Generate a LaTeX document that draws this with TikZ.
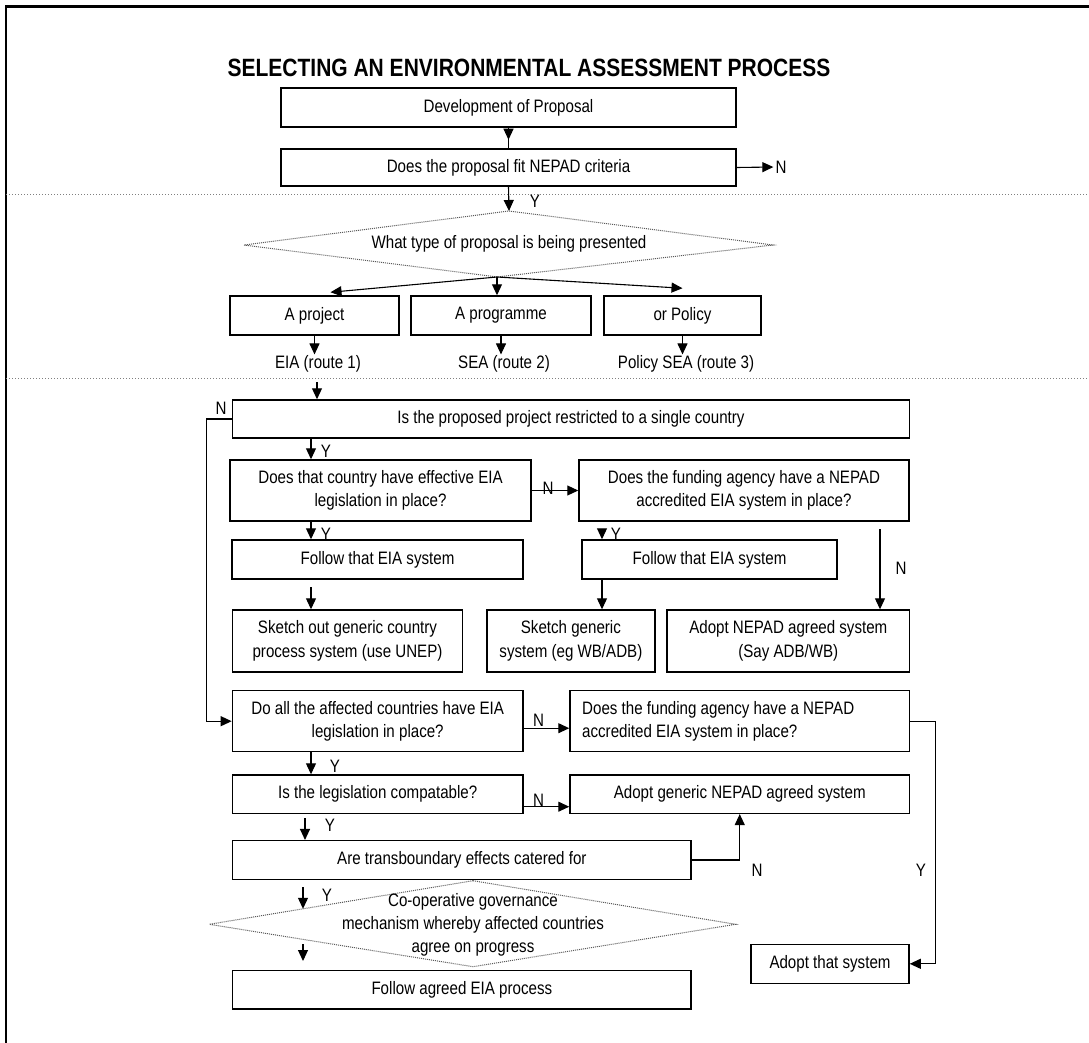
\documentclass[tikz,border=0pt]{standalone}
\usepackage{fontspec}
\setmainfont{Liberation Sans}[FakeStretch=0.84]
\usetikzlibrary{arrows.meta}
\begin{document}
\begin{tikzpicture}[x=1pt,y=-1pt,
  font=\fontsize{18}{23.3}\selectfont,
  box/.style={draw, line width=1.5pt, inner sep=0pt, align=center},
  lbl/.style={inner sep=1pt},
  arr/.style={line width=1.1pt, -{Triangle[length=11pt,width=10pt]}},
  link/.style={line width=1.1pt},
  sep/.style={gray, dotted, line width=1pt},
  decision/.style={gray!70!black, densely dotted, line width=1pt},
]
\useasboundingbox (0,0) rectangle (1089,1043);
\fill[white] (0,0) rectangle (1089,1043);

% outer frame
\draw[line width=2.2pt] (6,1043) -- (6,6.5) -- (1089,6.5);

% title
\node[font=\bfseries\fontsize{25}{30}\selectfont] (title) at (529,68)
  {SELECTING AN ENVIRONMENTAL ASSESSMENT PROCESS};

% screening
\node[box, minimum width=455, minimum height=39] (dev) at (508.5,107.5) {Development of Proposal};
\node[box, minimum width=455, minimum height=37] (crit) at (508.5,167.5) {Does the proposal fit NEPAD criteria};
\draw[link] (dev.south) -- (crit.north);
\draw[arr] (dev.south) -- ++(0,12);
\node[lbl] (critN) at (781,167) {N};
\draw[arr, shorten >=1pt] (crit.east) -- (critN.west);

\draw[sep] (6,195) -- (1089,195);

% type of proposal
\coordinate (q1t) at (509,211);
\coordinate (q1r) at (773,245);
\coordinate (q1b) at (497,277);
\coordinate (q1l) at (244,245);
\draw[decision] (q1t) -- (q1r) -- (q1b) -- (q1l) -- cycle;
\node[lbl] (q1) at (509,244) {What type of proposal is being presented};
\draw[arr] (crit.south) -- (q1t);
\node[lbl] (q1Y) at (535,201) {Y};

\node[box, minimum width=169, minimum height=39] (proj) at (314.5,315.5) {A project};
\node[box, minimum width=180, minimum height=39] (prog) at (501,315.5) {A programme};
\node[box, minimum width=157, minimum height=39] (pol) at (682.5,315.5) {or Policy};
\draw[arr] (q1b) -- ([xshift=16pt,yshift=3pt]proj.north);
\draw[arr] (q1b) -- (q1b |- prog.north);
\draw[arr] (q1b) -- ([yshift=7pt]pol.north);

\node[lbl] (r1) at (318,364) {EIA (route 1)};
\node[lbl] (r2) at (504,364) {SEA (route 2)};
\node[lbl] (r3) at (686,364) {Policy SEA (route 3)};
\draw[arr] (proj.south) -- (proj.south |- r1.north);
\draw[arr] (prog.south) -- (prog.south |- r2.north);
\draw[arr] (pol.south) -- (pol.south |- r3.north);

\draw[sep] (6,378) -- (1089,378);

% route 1
\coordinate (xl) at (311,0);
\coordinate (xm) at (602,0);
\coordinate (pin) at (317,382);
\node[box, minimum width=677, minimum height=38] (P) at (571,419) {Is the proposed project restricted to a single country};
\draw[arr] (pin) -- (pin |- P.north);
\node[lbl] (PN) at (221,408) {N};

\node[box, minimum width=301, minimum height=61] (A1) at (380.5,490.5) {Does that country have effective EIA\\legislation in place?};
\node[box, minimum width=330, minimum height=61] (A2) at (744,490.5) {Does the funding agency have a NEPAD\\accredited EIA system in place?};
\draw[arr] (P.south -| xl) -- (A1.north -| xl);
\node[lbl] (A1Y) at (326,451) {Y};
\draw[arr] (A1.east) -- (A2.west);
\node[lbl] (A2N) at (548,488) {N};

\node[box, minimum width=291, minimum height=39] (B1) at (377.5,559.5) {Follow that EIA system};
\node[box, minimum width=255, minimum height=39] (B2) at (709.5,559.5) {Follow that EIA system};
\draw[arr] (A1.south -| xl) -- (B1.north -| xl);
\node[lbl] (B1Y) at (326,534) {Y};
\coordinate (b2in) at (602,529);
\draw[arr] (b2in) -- (b2in |- B2.north);
\node[lbl] (B2Y) at (616,534) {Y};

\node[box, minimum width=230, minimum height=61.7] (C1) at (347.5,640.9) {Sketch out generic country\\process system (use UNEP)};
\node[box, minimum width=168, minimum height=61.7] (C2) at (570.9,640.9) {Sketch generic\\system (eg WB/ADB)};
\node[box, minimum width=242.5, minimum height=61.7] (C3) at (788.3,640.9) {Adopt NEPAD agreed system\\(Say ADB/WB)};
\coordinate (c1in) at (311,587);
\draw[arr] (c1in) -- (c1in |- C1.north);
\draw[arr] (B2.south -| xm) -- (C2.north -| xm);
\coordinate (c3in) at (880,529);
\draw[arr] (c3in) -- (c3in |- C3.north);
\node[lbl] (C3N) at (901,568) {N};

% several countries
\node[box, minimum width=290.6, minimum height=61] (D1) at (377.7,721.2) {Do all the affected countries have EIA\\legislation in place?};
\node[box, minimum width=339.5, minimum height=61] (D2) at (739.75,721.2) {};
\node[lbl, anchor=west, align=flush left] (D2t) at (581,721.2) {Does the funding agency have a NEPAD\\accredited EIA system in place?};
\draw[arr] (P.west) -- ++(-25.5,0) |- (D1.west);
\draw[arr] ([yshift=-7pt]D1.east) -- ([yshift=-7pt]D2.west);
\node[lbl] (D2N) at (538.7,720) {N};

\node[box, minimum width=290.6, minimum height=38.3] (E1) at (377.7,794.2) {Is the legislation compatable?};
\node[box, minimum width=339.5, minimum height=38.3] (E2) at (739.75,794.2) {Adopt generic NEPAD agreed system};
\draw[arr] (D1.south -| xl) -- (E1.north -| xl);
\node[lbl] (E1Y) at (335,766) {Y};
\draw[arr] ([yshift=-12.5pt]E1.east) -- ([yshift=-12.5pt]E2.west);
\node[lbl] (E2N) at (538.7,800) {N};

\node[box, minimum width=458.3, minimum height=38.6] (F) at (461.85,860) {Are transboundary effects catered for};
\coordinate (fin) at (305,818);
\draw[arr] (fin) -- (fin |- F.north);
\node[lbl] (FY) at (330,825) {Y};
\draw[arr] (F.east) -| (E2.south);
\node[lbl] (FN) at (757,870) {N};

\coordinate (q2t) at (473,880.7);
\coordinate (q2r) at (735.7,924.3);
\coordinate (q2b) at (473,966.7);
\coordinate (q2l) at (209.3,924.3);
\draw[decision] (q2t) -- (q2r) -- (q2b) -- (q2l) -- cycle;
\node[lbl, align=center] (q2) at (473,925) {Co-operative governance\\mechanism whereby affected countries\\agree on progress};
\coordinate (q2in) at (303,887);
\coordinate (q2a) at (303,908.8);
\draw[arr] (q2in) -- (q2a);
\node[lbl] (q2Y) at (327,895) {Y};

\node[box, minimum width=458.3, minimum height=38.3] (G) at (461.85,989.85) {Follow agreed EIA process};
\coordinate (gin) at (303,944);
\coordinate (gend) at (303,961);
\draw[arr] (gin) -- (gend);

\node[box, minimum width=158, minimum height=39] (H) at (830,963.8) {Adopt that system};
\draw[arr] (D2.east) -- ++(25.5,0) |- (H.east);
\node[lbl] (HY) at (921,870) {Y};
\end{tikzpicture}
\end{document}
